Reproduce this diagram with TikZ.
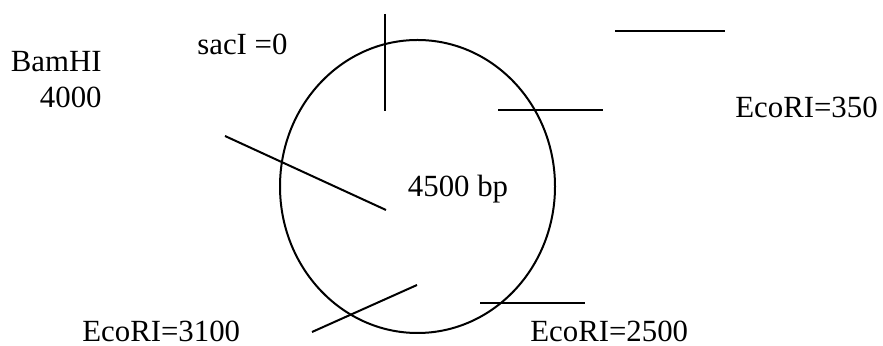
\documentclass[tikz,border=0pt]{standalone}
\usepackage{fontspec}
\setmainfont{Liberation Serif}
\usepackage{tikz}
\usetikzlibrary{positioning}

\begin{document}
\begin{tikzpicture}[
  x=0.5pt, y=-0.5pt,
  cut/.style   = {line width=1pt, color=black},
  ring/.style  = {line width=1pt, color=black},
  site/.style  = {font=\fontsize{15.4}{18}\selectfont, inner sep=0pt, anchor=base west}
]
  \useasboundingbox (0,0) rectangle (883,346);

  % Plasmid ring
  \draw[ring] (417.5,186.5) ellipse [x radius=137.5, y radius=146.5];
  \node[site, anchor=base] (size) at (458,197) {4500 bp};

  % Cut site markers
  \coordinate (sacA) at (385,14);   \coordinate (sacB) at (385,111);
  \coordinate (bamA) at (225,136);  \coordinate (bamB) at (386,210);
  \coordinate (ecoA) at (498,110);  \coordinate (ecoB) at (603,110);
  \coordinate (ecoC) at (480,303);  \coordinate (ecoD) at (585,303);
  \coordinate (ecoE) at (312,332);  \coordinate (ecoF) at (417,285);
  \coordinate (topA) at (615,31);   \coordinate (topB) at (725,31);

  \draw[cut] (sacA) -- (sacB);
  \draw[cut] (bamA) -- (bamB);
  \draw[cut] (ecoA) -- (ecoB);
  \draw[cut] (ecoC) -- (ecoD);
  \draw[cut] (ecoE) -- (ecoF);
  \draw[cut] (topA) -- (topB);

  % Labels
  \node[site] (sac)  at (197,55)  {sacI =0};
  \node[site, anchor=base east, align=right] (bam) at (102,108) {BamHI\\4000};
  \node[site] (eco1) at (735,118) {EcoRI=350};
  \node[site] (eco2) at (530,342) {EcoRI=2500};
  \node[site] (eco3) at (82,342)  {EcoRI=3100};

\end{tikzpicture}
\end{document}
